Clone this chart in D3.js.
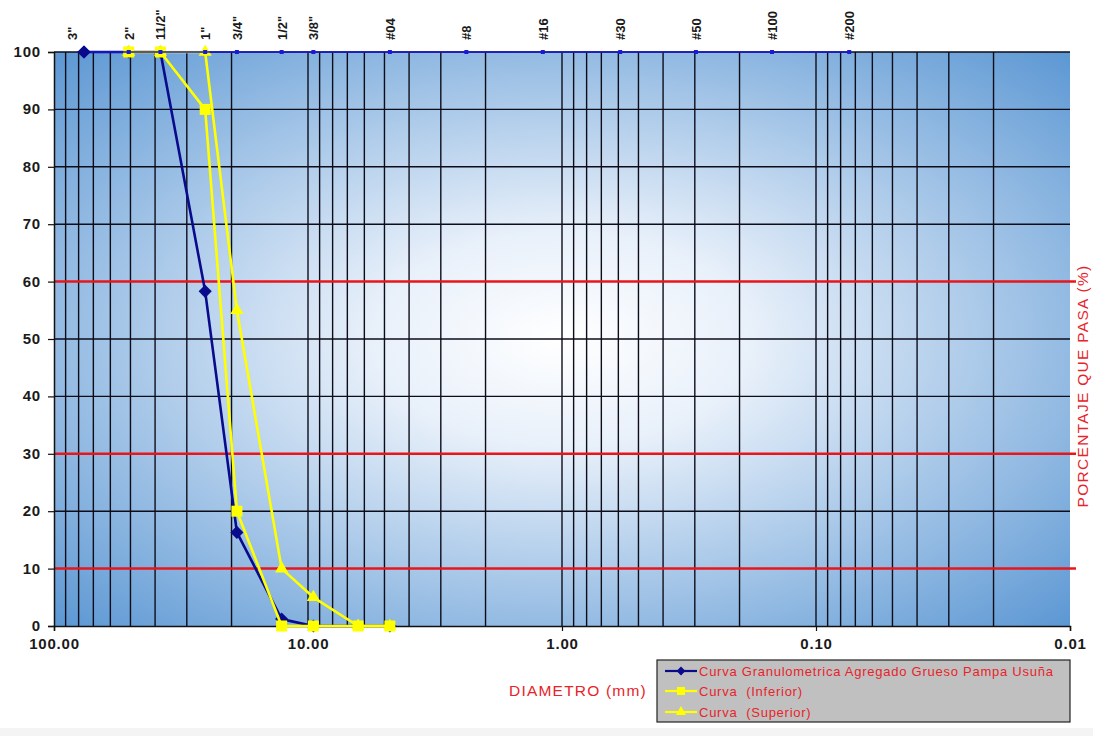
<!DOCTYPE html>
<html><head><meta charset="utf-8">
<script src="https://cdn.jsdelivr.net/npm/d3@7"></script>
<style>body{margin:0;background:#fff}svg{display:block}text{font-family:"Liberation Sans",Arial,sans-serif}</style>
</head><body><svg id="c" width="1093" height="736"></svg>
<script>
// Sieve openings (mm) and labels
const sieveSizes = [76.2, 50.8, 38.1, 25.4, 19.05, 12.7, 9.525, 4.76, 2.38, 1.19, 0.59, 0.297, 0.149, 0.074];
const sieveLabels = ['3"', '2"', '11/2"', '1"', '3/4"', '1/2"', '3/8"', '#04', '#8', '#16', '#30', '#50', '#100', '#200'];
const sieveLabelPos = [85, 50.8, 38.1, 25.4, 19.05, 12.7, 9.525, 4.76, 2.38, 1.19, 0.59, 0.297, 0.149, 0.074];
// Curves
const muestraD = [76.2, 50.8, 38.1, 25.4, 19.05, 12.7, 9.525, 4.76];
const muestraP = [100, 100, 100, 58.3, 16.3, 1.2, 0, 0];
const inferiorD = [50.8, 38.1, 25.4, 19.05, 12.7, 9.525, 6.35, 4.76];
const inferiorP = [100, 100, 90, 20, 0, 0, 0, 0];
const superiorD = [50.8, 38.1, 25.4, 19.05, 12.7, 9.525, 6.35, 4.76];
const superiorP = [100, 100, 100, 55, 10, 5, 0, 0];
// Axes
const xTicks = [100, 10, 1, 0.1, 0.01];
const yTicks = [0, 10, 20, 30, 40, 50, 60, 70, 80, 90, 100];
const redLines = [10, 30, 60];
const legendNames = ["Curva Granulometrica Agregado Grueso Pampa Usuña", "Curva  (Inferior)", "Curva  (Superior)"];

const svg = d3.select('#c');
const L = 54, R = 1070, T = 52, B = 626;
const x = d3.scaleLog().domain([100, 0.01]).range([L, R]);
const y = d3.scaleLinear().domain([0, 100]).range([B, T]);

const defs = svg.append('defs');
const g = defs.append('radialGradient').attr('id', 'bg').attr('cx', '50%').attr('cy', '50%').attr('r', '75%');
g.append('stop').attr('offset', '0%').attr('stop-color', '#ffffff');
g.append('stop').attr('offset', '25%').attr('stop-color', '#e8f0fa');
g.append('stop').attr('offset', '100%').attr('stop-color', '#5090d0');

svg.append('rect').attr('x', 0).attr('y', 728).attr('width', 1093).attr('height', 8).attr('fill', '#f4f4f4');
svg.append('rect').attr('x', L).attr('y', T).attr('width', R - L).attr('height', B - T).attr('fill', 'url(#bg)');

// vertical grid (log minor)
const vgrid = [];
for (let e = -2; e < 2; e++) for (let k = 1; k <= 9; k++) vgrid.push(k * Math.pow(10, e));
svg.append('g').selectAll('line').data(vgrid.filter(v => v <= 100 && v > 0.01)).join('line')
  .attr('x1', d => x(d)).attr('x2', d => x(d)).attr('y1', T).attr('y2', B)
  .attr('stroke', '#0d0d1a').attr('stroke-width', 1.4);

// horizontal grid
svg.append('g').selectAll('line').data(yTicks.filter(v => v > 0 && !redLines.includes(v))).join('line')
  .attr('x1', L).attr('x2', R).attr('y1', d => y(d)).attr('y2', d => y(d))
  .attr('stroke', '#0d0d1a').attr('stroke-width', 1.4);
svg.append('g').selectAll('line').data(redLines).join('line')
  .attr('x1', L).attr('x2', R + 6).attr('y1', d => y(d)).attr('y2', d => y(d))
  .attr('stroke', '#e8161b').attr('stroke-width', 2.5);

// axes
const ya = svg.append('g').attr('transform', `translate(${L},0)`)
  .call(d3.axisLeft(y).tickValues(yTicks).tickSize(6).tickPadding(7).tickFormat(d3.format('d')));
ya.select('.domain').attr('stroke', '#111').attr('stroke-width', 1.5);
ya.selectAll('.tick line').attr('stroke', '#111').attr('stroke-width', 1.2);
ya.selectAll('text').attr('font-size', 15).attr('font-weight', 'bold').attr('fill', '#1a1a1a')
  .attr('dy', '0.3em').style('letter-spacing', '0.8px')
  .style('font-family', '"Liberation Sans",Arial,sans-serif');
const xa = svg.append('g').attr('transform', `translate(0,${B})`)
  .call(d3.axisBottom(x).tickValues(xTicks).tickSize(5).tickPadding(7).tickFormat(d3.format('.2f')));
xa.select('.domain').attr('stroke', '#111').attr('stroke-width', 1.5);
xa.selectAll('.tick line').attr('stroke', '#111').attr('stroke-width', 1.2);
xa.selectAll('text').attr('font-size', 15).attr('font-weight', 'bold').attr('fill', '#1a1a1a')
  .style('letter-spacing', '0.8px')
  .style('font-family', '"Liberation Sans",Arial,sans-serif');

// curves
const line = d3.line().x(d => x(d[0])).y(d => y(d[1]));
function series(D, P, color, width) {
  const pts = D.map((d, i) => [d, P[i]]);
  svg.append('path').datum(pts).attr('d', line).attr('fill', 'none')
    .attr('stroke', color).attr('stroke-width', width).attr('stroke-linejoin', 'round');
  return pts;
}
const mp = series(muestraD, muestraP, '#0a0a8c', 2.6);
svg.append('g').selectAll('path').data(mp).join('path')
  .attr('d', d3.symbol(d3.symbolDiamond2, 110)())
  .attr('transform', d => `translate(${x(d[0])},${y(d[1])})`).attr('fill', '#0a0a8c');
const sp = series(superiorD, superiorP, '#ffff00', 2.6);
svg.append('g').selectAll('path').data(sp).join('path')
  .attr('d', d3.symbol(d3.symbolTriangle, 75)())
  .attr('transform', d => `translate(${x(d[0])},${y(d[1])})`).attr('fill', '#ffff00');
const ip = series(inferiorD, inferiorP, '#ffff00', 2.6);
svg.append('g').selectAll('rect').data(ip).join('rect')
  .attr('x', d => x(d[0]) - 5.5).attr('y', d => y(d[1]) - 5.5).attr('width', 11).attr('height', 11)
  .attr('fill', '#ffff00');

// sieve line at 100%
svg.append('line').attr('x1', x(sieveSizes[0])).attr('x2', x(sieveSizes[sieveSizes.length - 1]))
  .attr('y1', y(100)).attr('y2', y(100)).attr('stroke', '#1a1ad0').attr('stroke-width', 1.5);
svg.append('g').selectAll('rect').data(sieveSizes.slice(1)).join('rect')
  .attr('x', d => x(d) - 2).attr('y', y(100) - 2).attr('width', 4).attr('height', 4).attr('fill', '#1a1ad0');
svg.append('path').attr('d', d3.symbol(d3.symbolDiamond2, 110)())
  .attr('transform', `translate(${x(muestraD[0])},${y(100)})`).attr('fill', '#0a0a8c');

svg.append('g').selectAll('text').data(sieveLabels).join('text')
  .attr('transform', (d, i) => `translate(${x(sieveLabelPos[i]) + 5},40) rotate(-90)`)
  .attr('text-anchor', 'start').attr('font-size', 13).attr('font-weight', 'bold').attr('fill', '#1a1a1a')
  .text(d => d);

// titles
svg.append('text').attr('x', 578).attr('y', 696).attr('text-anchor', 'middle')
  .attr('font-size', 15.5).style('letter-spacing', '1.2px').attr('fill', '#e8232a').text('DIAMETRO (mm)');
svg.append('text').attr('transform', 'translate(1088,386) rotate(-90)').attr('text-anchor', 'middle')
  .attr('font-size', 15.5).style('letter-spacing', '1.3px').attr('fill', '#e8232a').text('PORCENTAJE QUE PASA (%)');

// legend
const lg = svg.append('g').attr('transform', 'translate(657,660)');
lg.append('rect').attr('width', 413).attr('height', 62).attr('fill', '#c0c0c0')
  .attr('stroke', '#222').attr('stroke-width', 1.2);
const rows = [0, 1, 2];
const colors = ['#0a0a8c', '#ffff00', '#ffff00'];
const ry = [11, 31, 52];
rows.forEach(i => {
  lg.append('line').attr('x1', 8).attr('x2', 40).attr('y1', ry[i]).attr('y2', ry[i])
    .attr('stroke', colors[i]).attr('stroke-width', 2.2);
  if (i === 0) lg.append('path').attr('d', d3.symbol(d3.symbolDiamond2, 50)()).attr('transform', `translate(24,${ry[i]})`).attr('fill', colors[i]);
  if (i === 1) lg.append('rect').attr('x', 20).attr('y', ry[i] - 4).attr('width', 8).attr('height', 8).attr('fill', colors[i]);
  if (i === 2) lg.append('path').attr('d', d3.symbol(d3.symbolTriangle, 45)()).attr('transform', `translate(24,${ry[i]})`).attr('fill', colors[i]);
  lg.append('text').attr('x', 42).attr('y', ry[i] + 4.5).attr('font-size', 13).style('letter-spacing', '0.75px')
    .attr('fill', '#e8232a').style('white-space', 'pre').text(legendNames[i]);
});
</script></body></html>
